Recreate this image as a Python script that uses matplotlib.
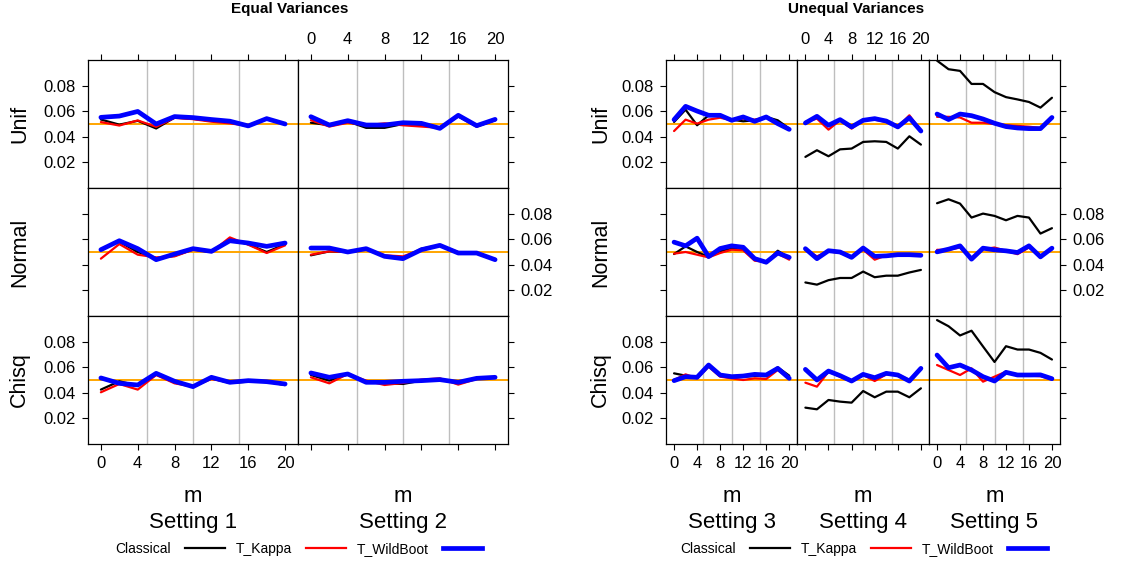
import matplotlib
matplotlib.use("Agg")
import matplotlib.pyplot as plt
from matplotlib.lines import Line2D

plt.rcParams['font.family'] = ['Liberation Sans', 'DejaVu Sans']

# ---------------- data ----------------
m = [0, 2, 4, 6, 8, 10, 12, 14, 16, 18, 20]
methods = ["Classical", "T_Kappa", "T_WildBoot"]
distributions = ["Unif", "Normal", "Chisq"]
settings = ["Setting 1", "Setting 2", "Setting 3", "Setting 4", "Setting 5"]
group_titles = ["Equal Variances", "Unequal Variances"]
x_ticks = [0, 4, 8, 12, 16, 20]
y_ticks = [0.02, 0.04, 0.06, 0.08]
nominal_level = 0.05

s1_unif_classical = [0.0535, 0.0495, 0.0525, 0.0465, 0.0550, 0.0540, 0.0525, 0.0512, 0.0487, 0.0540, 0.0498]
s1_unif_kappa = [0.0515, 0.0488, 0.0528, 0.0478, 0.0548, 0.0538, 0.0518, 0.0505, 0.0485, 0.0540, 0.0498]
s1_unif_wild = [0.0552, 0.0562, 0.0598, 0.0500, 0.0558, 0.0550, 0.0535, 0.0522, 0.0485, 0.0542, 0.0500]

s2_unif_classical = [0.0510, 0.0490, 0.0520, 0.0470, 0.0470, 0.0500, 0.0490, 0.0470, 0.0560, 0.0480, 0.0530]
s2_unif_kappa = [0.0530, 0.0480, 0.0510, 0.0490, 0.0505, 0.0490, 0.0480, 0.0470, 0.0560, 0.0480, 0.0530]
s2_unif_wild = [0.0557, 0.0492, 0.0526, 0.0492, 0.0492, 0.0510, 0.0505, 0.0466, 0.0568, 0.0487, 0.0536]

s1_norm_classical = [0.0520, 0.0580, 0.0500, 0.0450, 0.0470, 0.0520, 0.0500, 0.0600, 0.0560, 0.0500, 0.0560]
s1_norm_kappa = [0.0448, 0.0562, 0.0479, 0.0458, 0.0466, 0.0518, 0.0500, 0.0614, 0.0557, 0.0492, 0.0552]
s1_norm_wild = [0.0518, 0.0588, 0.0526, 0.0440, 0.0484, 0.0526, 0.0505, 0.0588, 0.0570, 0.0544, 0.0570]

s2_norm_classical = [0.0474, 0.0505, 0.0500, 0.0526, 0.0466, 0.0453, 0.0526, 0.0552, 0.0492, 0.0492, 0.0440]
s2_norm_kappa = [0.0479, 0.0505, 0.0500, 0.0526, 0.0474, 0.0466, 0.0518, 0.0552, 0.0500, 0.0492, 0.0440]
s2_norm_wild = [0.0531, 0.0531, 0.0500, 0.0526, 0.0466, 0.0448, 0.0518, 0.0552, 0.0492, 0.0492, 0.0440]

s1_chisq_classical = [0.0425, 0.0490, 0.0456, 0.0547, 0.0480, 0.0448, 0.0513, 0.0477, 0.0487, 0.0487, 0.0460]
s1_chisq_kappa = [0.0404, 0.0469, 0.0425, 0.0539, 0.0474, 0.0448, 0.0508, 0.0482, 0.0487, 0.0487, 0.0469]
s1_chisq_wild = [0.0516, 0.0474, 0.0461, 0.0552, 0.0490, 0.0448, 0.0521, 0.0482, 0.0495, 0.0487, 0.0469]

s2_chisq_classical = [0.0539, 0.0495, 0.0547, 0.0487, 0.0474, 0.0469, 0.0495, 0.0503, 0.0482, 0.0508, 0.0521]
s2_chisq_kappa = [0.0521, 0.0474, 0.0547, 0.0495, 0.0461, 0.0477, 0.0503, 0.0513, 0.0464, 0.0508, 0.0521]
s2_chisq_wild = [0.0555, 0.0521, 0.0547, 0.0482, 0.0482, 0.0490, 0.0495, 0.0503, 0.0482, 0.0513, 0.0521]

s3_unif_classical = [0.0516, 0.0612, 0.0490, 0.0568, 0.0568, 0.0534, 0.0521, 0.0529, 0.0555, 0.0529, 0.0464]
s3_unif_kappa = [0.0445, 0.0534, 0.0503, 0.0534, 0.0549, 0.0529, 0.0542, 0.0534, 0.0549, 0.0503, 0.0458]
s3_unif_wild = [0.0534, 0.0638, 0.0601, 0.0568, 0.0568, 0.0529, 0.0555, 0.0521, 0.0555, 0.0503, 0.0458]

s4_unif_classical = [0.0243, 0.0295, 0.0248, 0.0302, 0.0308, 0.0360, 0.0365, 0.0360, 0.0308, 0.0404, 0.0339]
s4_unif_kappa = [0.0516, 0.0542, 0.0456, 0.0529, 0.0464, 0.0529, 0.0534, 0.0516, 0.0477, 0.0568, 0.0445]
s4_unif_wild = [0.0508, 0.0560, 0.0490, 0.0534, 0.0477, 0.0529, 0.0542, 0.0523, 0.0477, 0.0549, 0.0445]

s5_unif_classical = [0.0995, 0.0928, 0.0915, 0.0813, 0.0813, 0.0749, 0.0710, 0.0692, 0.0672, 0.0628, 0.0705]
s5_unif_kappa = [0.0556, 0.0556, 0.0551, 0.0510, 0.0510, 0.0500, 0.0490, 0.0485, 0.0479, 0.0469, 0.0551]
s5_unif_wild = [0.0578, 0.0535, 0.0578, 0.0565, 0.0539, 0.0506, 0.0480, 0.0469, 0.0464, 0.0464, 0.0551]

s3_norm_classical = [0.0484, 0.0544, 0.0500, 0.0461, 0.0505, 0.0531, 0.0518, 0.0448, 0.0414, 0.0510, 0.0453]
s3_norm_kappa = [0.0487, 0.0500, 0.0479, 0.0458, 0.0492, 0.0518, 0.0513, 0.0432, 0.0422, 0.0487, 0.0440]
s3_norm_wild = [0.0577, 0.0548, 0.0608, 0.0464, 0.0527, 0.0548, 0.0537, 0.0448, 0.0420, 0.0492, 0.0458]

s4_norm_classical = [0.0262, 0.0245, 0.0280, 0.0297, 0.0297, 0.0347, 0.0303, 0.0315, 0.0315, 0.0340, 0.0360]
s4_norm_kappa = [0.0518, 0.0466, 0.0505, 0.0492, 0.0466, 0.0518, 0.0440, 0.0474, 0.0479, 0.0474, 0.0474]
s4_norm_wild = [0.0526, 0.0448, 0.0510, 0.0500, 0.0458, 0.0531, 0.0466, 0.0470, 0.0479, 0.0479, 0.0474]

s5_norm_classical = [0.0881, 0.0912, 0.0878, 0.0769, 0.0800, 0.0782, 0.0748, 0.0782, 0.0769, 0.0644, 0.0686]
s5_norm_kappa = [0.0517, 0.0517, 0.0535, 0.0444, 0.0522, 0.0535, 0.0509, 0.0483, 0.0535, 0.0470, 0.0522]
s5_norm_wild = [0.0501, 0.0522, 0.0548, 0.0444, 0.0530, 0.0517, 0.0509, 0.0496, 0.0548, 0.0462, 0.0530]

s3_chisq_classical = [0.0552, 0.0534, 0.0521, 0.0612, 0.0539, 0.0526, 0.0526, 0.0531, 0.0531, 0.0599, 0.0534]
s3_chisq_kappa = [0.0500, 0.0544, 0.0513, 0.0604, 0.0526, 0.0513, 0.0500, 0.0513, 0.0508, 0.0578, 0.0513]
s3_chisq_wild = [0.0495, 0.0526, 0.0521, 0.0617, 0.0539, 0.0526, 0.0531, 0.0544, 0.0539, 0.0591, 0.0513]

s4_chisq_classical = [0.0284, 0.0271, 0.0344, 0.0331, 0.0323, 0.0414, 0.0365, 0.0409, 0.0409, 0.0365, 0.0435]
s4_chisq_kappa = [0.0479, 0.0448, 0.0565, 0.0526, 0.0487, 0.0539, 0.0492, 0.0544, 0.0544, 0.0500, 0.0586]
s4_chisq_wild = [0.0583, 0.0500, 0.0570, 0.0534, 0.0492, 0.0544, 0.0518, 0.0552, 0.0539, 0.0492, 0.0591]

s5_chisq_classical = [0.0968, 0.0920, 0.0848, 0.0885, 0.0762, 0.0641, 0.0764, 0.0738, 0.0738, 0.0712, 0.0660]
s5_chisq_kappa = [0.0617, 0.0578, 0.0539, 0.0591, 0.0487, 0.0526, 0.0565, 0.0534, 0.0534, 0.0530, 0.0505]
s5_chisq_wild = [0.0695, 0.0596, 0.0617, 0.0578, 0.0526, 0.0492, 0.0560, 0.0539, 0.0539, 0.0540, 0.0510]

panel_data = {
    (0, 0): (s1_unif_classical, s1_unif_kappa, s1_unif_wild),
    (0, 1): (s1_norm_classical, s1_norm_kappa, s1_norm_wild),
    (0, 2): (s1_chisq_classical, s1_chisq_kappa, s1_chisq_wild),
    (1, 0): (s2_unif_classical, s2_unif_kappa, s2_unif_wild),
    (1, 1): (s2_norm_classical, s2_norm_kappa, s2_norm_wild),
    (1, 2): (s2_chisq_classical, s2_chisq_kappa, s2_chisq_wild),
    (2, 0): (s3_unif_classical, s3_unif_kappa, s3_unif_wild),
    (2, 1): (s3_norm_classical, s3_norm_kappa, s3_norm_wild),
    (2, 2): (s3_chisq_classical, s3_chisq_kappa, s3_chisq_wild),
    (3, 0): (s4_unif_classical, s4_unif_kappa, s4_unif_wild),
    (3, 1): (s4_norm_classical, s4_norm_kappa, s4_norm_wild),
    (3, 2): (s4_chisq_classical, s4_chisq_kappa, s4_chisq_wild),
    (4, 0): (s5_unif_classical, s5_unif_kappa, s5_unif_wild),
    (4, 1): (s5_norm_classical, s5_norm_kappa, s5_norm_wild),
    (4, 2): (s5_chisq_classical, s5_chisq_kappa, s5_chisq_wild),
}

# ---------------- styling / layout ----------------
W, H = 1146, 565
fig = plt.figure(figsize=(W / 100, H / 100), dpi=100)

line_colors = ["black", "#FF0000", "#0000FF"]
line_widths = [1.6, 1.6, 3.4]

col_edges = [(88, 298), (298, 508), (666, 797.3), (797.3, 929), (929, 1060)]
row_edges = [(60, 188), (188, 316), (316, 444)]
group_cols = [[0, 1], [2, 3, 4]]
title_x = [290, 856]
legend_x = [299, 864]
rowlab_x = [19.5, 600.5]


def fx(px):
    return px / W


def fy(py):
    return 1 - py / H


for g, cols in enumerate(group_cols):
    for ci, c in enumerate(cols):
        x0, x1 = col_edges[c]
        for r in range(3):
            y0, y1 = row_edges[r]
            ax = fig.add_axes([fx(x0), fy(y1), (x1 - x0) / W, (y1 - y0) / H])
            ax.set_xlim(-1.4, 21.4)
            ax.set_ylim(0, 0.1)
            ax.set_xticks(x_ticks)
            ax.set_yticks(y_ticks)
            ax.set_yticklabels([f"{v:.2f}" for v in y_ticks])
            ax.set_xticks([5, 10, 15, 20], minor=True)
            ax.tick_params(which='minor', length=0)
            ax.xaxis.grid(True, which='minor', color='#BEBEBE', lw=1.0)
            ax.xaxis.grid(False, which='major')
            ax.set_axisbelow(True)
            for sp in ax.spines.values():
                sp.set_linewidth(0.9)
                sp.set_color('black')
            first = ci == 0
            last = ci == len(cols) - 1
            ax.tick_params(axis='both', which='major', direction='out', length=4.5,
                           width=0.8, labelsize=12, pad=4.5)
            ax.tick_params(axis='x',
                           bottom=(r == 2), top=(r == 0),
                           labelbottom=(r == 2 and ci % 2 == 0),
                           labeltop=(r == 0 and ci % 2 == 1))
            ax.tick_params(axis='y',
                           left=first, right=last,
                           labelleft=(first and r != 1),
                           labelright=(last and r == 1))
            ax.axhline(nominal_level, color='#FFA500', lw=1.4, zorder=1.5)
            for k, series in enumerate(panel_data[(c, r)]):
                ax.plot(m, series, color=line_colors[k], lw=line_widths[k],
                        solid_capstyle='round', solid_joinstyle='round', zorder=2 + k)
        cx = (x0 + x1) / 2
        fig.text(fx(cx), fy(501.7), "m", ha='center', va='baseline', fontsize=16)
        fig.text(fx(cx), fy(528), settings[c], ha='center', va='baseline', fontsize=16)
    for r in range(3):
        y0, y1 = row_edges[r]
        fig.text(fx(rowlab_x[g]), fy((y0 + y1) / 2), distributions[r], rotation=90,
                 ha='center', va='center', fontsize=15.5)
    fig.text(fx(title_x[g]), fy(13.5), group_titles[g], ha='center', va='baseline',
             fontsize=11, fontweight='bold')
    handles = [Line2D([], [], color=line_colors[k], lw=line_widths[k]) for k in range(3)]
    fig.legend(handles, methods, loc='center', bbox_to_anchor=(fx(legend_x[g]), fy(549)),
               ncol=3, frameon=False, markerfirst=False, fontsize=10,
               handlelength=2.85, handletextpad=1.0, columnspacing=0.8, borderpad=0,
               borderaxespad=0)

fig.savefig("out.png", dpi=100)
